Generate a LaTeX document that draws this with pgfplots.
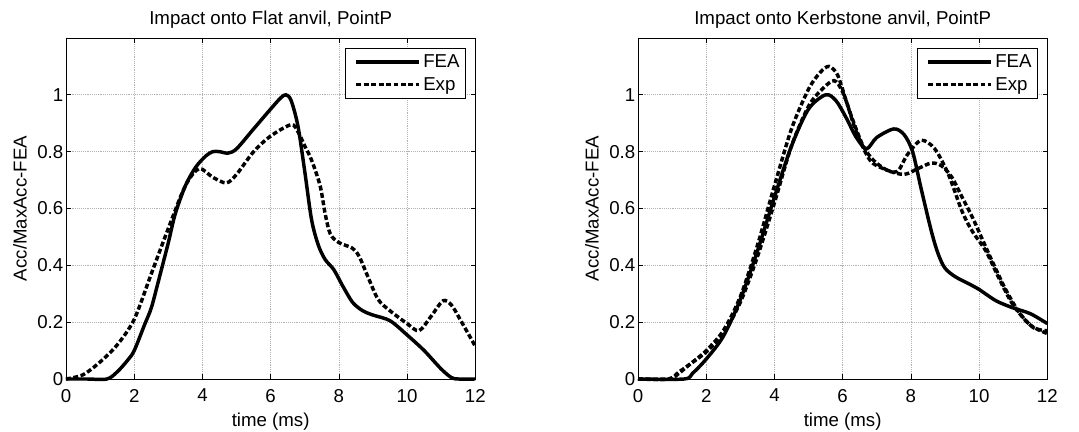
\documentclass[border=0pt]{standalone}
\usepackage{fontspec}
\setmainfont{Liberation Sans}
\usepackage{pgfplots}
\pgfplotsset{compat=1.18}

\pgfplotsset{
  mystyle/.style={
    scale only axis, width=307pt, height=255.75pt,
    xmin=0, xmax=12, ymin=0, ymax=1.2,
    xtick={0,2,4,6,8,10,12},
    ytick={0,0.2,0.4,0.6,0.8,1},
    yticklabels={0,0.2,0.4,0.6,0.8,1},
    grid=major,
    major grid style={densely dotted, gray!60, line width=0.5pt},
    tick align=inside, xtick pos=both, ytick pos=both,
    major tick length=3.5pt,
    tick style={black, line width=0.5pt},
    axis line style={black, line width=0.6pt},
    tick label style={font=\fontsize{14}{17}\selectfont},
    xticklabel style={yshift=-4pt},
    yticklabel style={xshift=1.5pt},
    every axis x label/.style={at={(axis description cs:0.5,0)}, yshift=-32pt, anchor=center},
    every axis y label/.style={at={(axis description cs:0,0.5)}, xshift=-34.5pt, rotate=90, anchor=center},
    label style={font=\fontsize{14}{17}\selectfont},
    every axis title/.style={at={(axis description cs:0.5,1)}, anchor=center, yshift=14pt},
    title style={font=\fontsize{14}{17}\selectfont},
    /pgf/number format/assume math mode=true,
    xlabel={time (ms)}, ylabel={Acc/MaxAcc-FEA},
    clip=false,
    legend style={at={(1,1)}, anchor=north east, xshift=-7.5pt, yshift=-7.5pt,
      font=\fontsize{14}{17}\selectfont, draw=black, line width=0.6pt,
      inner xsep=2pt, inner ysep=2.5pt, row sep=2pt},
    legend cell align=left,
    legend image code/.code={\path (0pt,0pt); \draw[##1] (5pt,0pt) -- (52pt,0pt);},
  },
  fea/.style={black, line width=2.6pt, smooth, tension=0.5},
  expc/.style={black, line width=2.6pt, smooth, tension=0.5, dash pattern=on 3.7pt off 1.9pt},
}

\begin{document}
\begin{tikzpicture}
\useasboundingbox (0,0) rectangle (809.25pt,324pt);

\begin{axis}[mystyle, at={(49.5pt,39.75pt)}, anchor=south west,
  title={Impact onto Flat anvil, PointP}]
\addplot[fea] coordinates {
(0,0)(0.6,0)(1.2,0)(1.5,0.025)(1.8,0.065)(2,0.10)(2.3,0.19)(2.5,0.25)(2.7,0.34)
(3,0.48)(3.2,0.58)(3.5,0.68)(3.8,0.745)(4.1,0.785)(4.3,0.80)(4.5,0.80)(4.75,0.795)
(5,0.81)(5.5,0.88)(6,0.95)(6.3,0.99)(6.45,1.0)(6.6,0.98)(6.8,0.89)(7.0,0.73)
(7.2,0.56)(7.4,0.47)(7.6,0.42)(7.85,0.385)(8.1,0.33)(8.4,0.27)(8.7,0.24)(9,0.225)
(9.5,0.205)(10,0.155)(10.5,0.10)(11,0.035)(11.3,0.005)(11.5,0)(12,0)
};
\addlegendentry{FEA}
\addplot[expc] coordinates {
(0,0)(0.5,0.015)(1,0.06)(1.5,0.12)(2,0.21)(2.5,0.37)(3,0.53)(3.5,0.68)(3.9,0.74)
(4.3,0.71)(4.7,0.69)(5,0.72)(5.5,0.80)(6,0.855)(6.6,0.895)(6.8,0.87)(7.0,0.82)
(7.2,0.77)(7.45,0.68)(7.6,0.58)(7.75,0.51)(8.0,0.48)(8.4,0.46)(8.6,0.43)(8.85,0.36)
(9.15,0.28)(9.5,0.24)(10,0.195)(10.35,0.17)(10.7,0.22)(11.05,0.275)(11.3,0.26)
(11.6,0.20)(12,0.115)
};
\addlegendentry{Exp}
\end{axis}

\begin{axis}[mystyle, at={(478.5pt,39.75pt)}, anchor=south west,
  title={Impact onto Kerbstone anvil, PointP}]
\addplot[fea] coordinates {
(0,0)(1.35,0)(1.6,0.02)(2,0.07)(2.5,0.15)(3,0.28)(3.5,0.45)(4,0.64)(4.5,0.82)
(5,0.95)(5.5,1.0)(5.8,0.98)(6.1,0.92)(6.4,0.85)(6.7,0.81)(7.0,0.85)(7.5,0.88)
(7.8,0.86)(8.05,0.80)(8.3,0.67)(8.6,0.52)(8.8,0.44)(9.0,0.39)(9.3,0.36)(9.7,0.335)
(10,0.315)(10.5,0.275)(11,0.25)(11.5,0.23)(12,0.195)
};
\addlegendentry{FEA}
\addplot[expc] coordinates {
(0,0)(0.9,0)(1.2,0.025)(1.5,0.05)(2,0.10)(2.5,0.17)(3,0.29)(3.5,0.47)(4,0.68)
(4.5,0.88)(5,1.02)(5.35,1.08)(5.6,1.10)(5.85,1.07)(6.1,0.98)(6.4,0.87)(6.8,0.77)
(7.2,0.74)(7.6,0.73)(7.9,0.79)(8.3,0.84)(8.7,0.81)(9.1,0.72)(9.5,0.59)(9.8,0.52)
(10.2,0.45)(10.6,0.35)(11,0.26)(11.5,0.19)(12,0.16)
};
\addlegendentry{Exp}
\addplot[expc, forget plot] coordinates {
(0,0)(0.9,0)(1.2,0.02)(1.5,0.05)(2,0.095)(2.5,0.16)(3,0.27)(3.5,0.43)(4,0.62)
(4.5,0.82)(5,0.96)(5.4,1.02)(5.75,1.05)(6.0,1.01)(6.3,0.91)(6.6,0.82)(6.9,0.77)
(7.3,0.735)(7.8,0.72)(8.2,0.74)(8.6,0.76)(8.9,0.75)(9.2,0.71)(9.5,0.64)(9.8,0.57)
(10.1,0.49)(10.4,0.41)(10.8,0.31)(11.2,0.23)(11.6,0.18)(12,0.17)
};
\end{axis}
\end{tikzpicture}
\end{document}
